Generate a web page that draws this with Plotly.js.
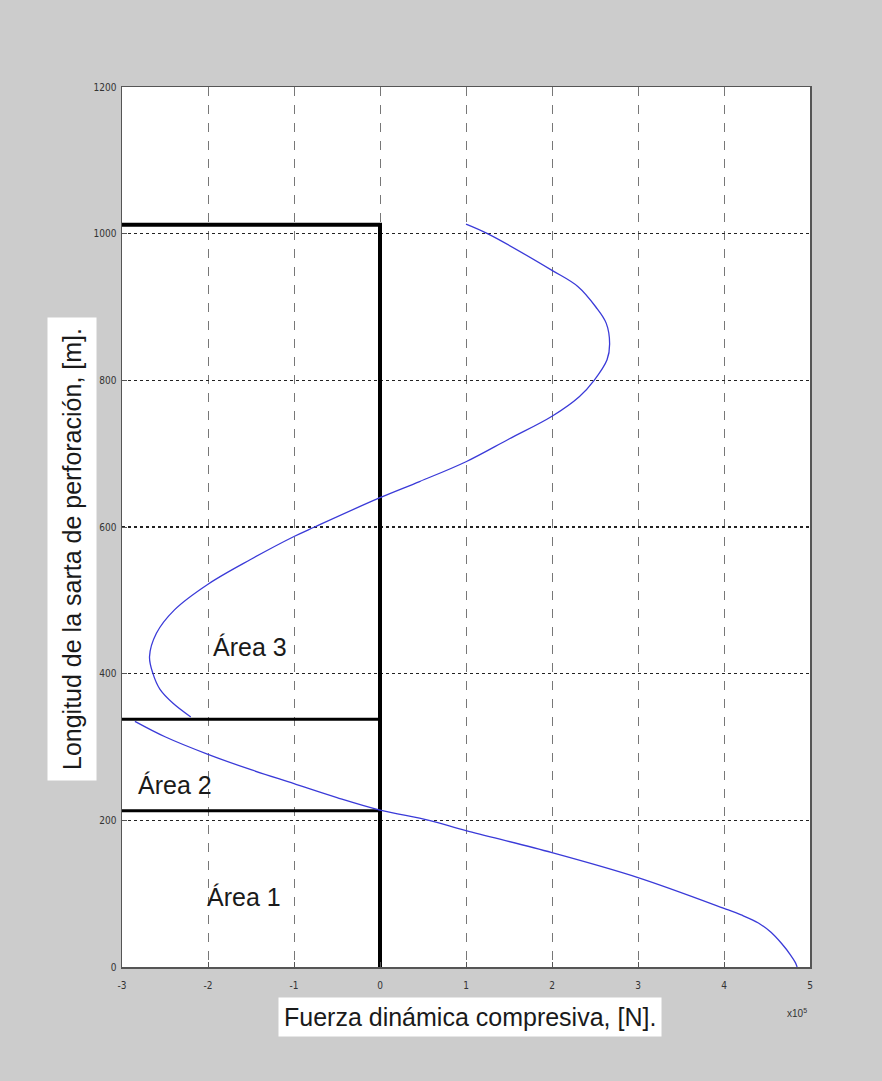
<!DOCTYPE html>
<html>
<head>
<meta charset="utf-8">
<script src="https://cdn.plot.ly/plotly-3.0.1.min.js"></script>
<style>html,body{margin:0;padding:0;background:#cccccc;}</style>
</head>
<body>
<div id="chart" style="width:882px;height:1081px;"></div>
<script>
// Upper branch (Área 3 curve)
const upperX = [1.0, 1.25, 2.0, 2.30, 2.51, 2.63, 2.67, 2.64, 2.49, 2.32, 2.0, 1.5, 1.0, 0.46, 0.0, -0.76, -1.0, -1.5, -2.0, -2.39, -2.60, -2.68, -2.64, -2.56, -2.41, -2.2];
const upperY = [1013, 1000, 950, 928, 900, 878, 850, 828, 800, 778, 751, 720, 689, 662, 640, 600, 587, 556, 522, 487, 455, 423, 400, 379, 360, 341];
// Lower branch (Áreas 1 y 2)
const lowerX = [-2.85, -2.5, -2.0, -1.5, -1.0, -0.5, 0.0, 0.57, 1.0, 2.0, 3.0, 4.0, 4.2, 4.4, 4.55, 4.67, 4.77, 4.83, 4.85];
const lowerY = [335, 314, 290, 269, 250, 231, 214, 200, 186, 156, 122, 80, 71, 60, 47, 32, 17, 6, 0];
// Black reference lines
const frameX = [-3, 0, 0];
const frameY = [1012, 1012, 0];
const limitsX = [-3, 0, null, -3, 0];
const limitsY = [338, 338, null, 213, 213];
// Axis ticks
const xTicks = [-3, -2, -1, 0, 1, 2, 3, 4, 5];
const yTicks = [0, 200, 400, 600, 800, 1000, 1200];
// Labels
const areaLabels = ["Área 3", "Área 2", "Área 1"];
const areaX = [-1.51, -2.38, -1.58];
const areaY = [436, 248, 95];

const blue = '#3a3ad8';
const traces = [
  {x: frameX, y: frameY, mode: 'lines', line: {color: '#000', width: 4}, hoverinfo: 'skip'},
  {x: limitsX, y: limitsY, mode: 'lines', line: {color: '#000', width: 3}, hoverinfo: 'skip', connectgaps: false},
  {x: upperX, y: upperY, mode: 'lines', line: {color: blue, width: 1.3, shape: 'spline', smoothing: 1}},
  {x: lowerX, y: lowerY, mode: 'lines', line: {color: blue, width: 1.3, shape: 'spline', smoothing: 1}}
];

const bigFont = {family: 'Liberation Sans, Arial, sans-serif', size: 25, color: '#1a1a1a'};
const annotations = areaLabels.map((t, i) => ({
  x: areaX[i], y: areaY[i], xref: 'x', yref: 'y', text: t, showarrow: false,
  font: bigFont, xanchor: 'center', yanchor: 'middle'
}));
annotations.push({
  xref: 'paper', yref: 'paper', x: (470 - 122) / 688, y: -(1017 - 967) / 880,
  text: 'Fuerza dinámica compresiva, [N].', showarrow: false, font: bigFont,
  bgcolor: '#ffffff', borderpad: 5, xanchor: 'center', yanchor: 'middle'
});
annotations.push({
  xref: 'paper', yref: 'paper', x: -(122 - 72) / 688, y: (967 - 549) / 880,
  text: 'Longitud de la sarta de perforación, [m].', showarrow: false, font: bigFont,
  textangle: -90, bgcolor: '#ffffff', borderpad: 10, xanchor: 'center', yanchor: 'middle'
});
annotations.push({
  xref: 'paper', yref: 'paper', x: (797 - 122) / 688, y: -(1013 - 967) / 880,
  text: 'x10<sup>5</sup>', showarrow: false,
  font: {family: 'Liberation Sans Narrow, Liberation Sans, sans-serif', size: 10, color: '#333'},
  xanchor: 'center', yanchor: 'middle'
});

const tickFont = {family: 'Liberation Sans Narrow, DejaVu Sans Condensed, sans-serif', size: 10, color: '#333'};
const layout = {
  width: 882, height: 1081,
  margin: {l: 122, r: 72, t: 87, b: 114},
  paper_bgcolor: '#cccccc', plot_bgcolor: '#ffffff',
  showlegend: false,
  xaxis: {
    range: [-3, 5], tickvals: xTicks, ticktext: xTicks.map(String),
    showgrid: true, gridcolor: '#777', griddash: 'dash', gridwidth: 1,
    zeroline: false, showline: true, linecolor: '#555', linewidth: 1.5, mirror: true,
    ticks: 'inside', ticklen: 5, tickcolor: '#555', tickfont: tickFont, ticklabelstandoff: 8
  },
  yaxis: {
    range: [0, 1200], tickvals: yTicks, ticktext: yTicks.map(String),
    showgrid: true, gridcolor: '#222', griddash: 'dot', gridwidth: 1.3,
    zeroline: false, showline: true, linecolor: '#555', linewidth: 1.5, mirror: true,
    ticks: 'inside', ticklen: 5, tickcolor: '#555', tickfont: tickFont, ticklabelstandoff: 2
  },
  annotations: annotations
};
Plotly.newPlot('chart', traces, layout, {staticPlot: true});
</script>
</body>
</html>
